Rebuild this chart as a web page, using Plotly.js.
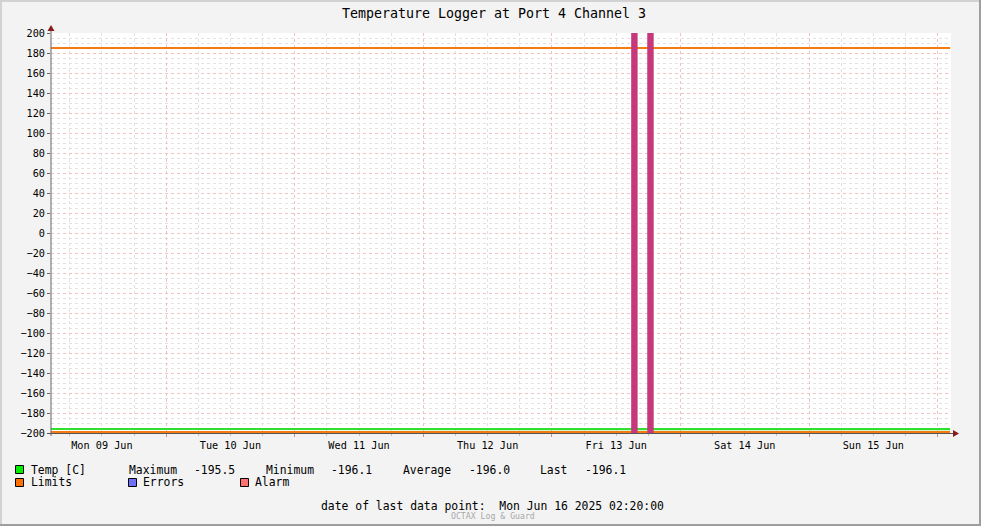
<!DOCTYPE html>
<html>
<head>
<meta charset="utf-8">
<script src="https://cdn.plot.ly/plotly-3.0.1.min.js"></script>
<style>
  html, body { margin: 0; padding: 0; background: #f3f3f3; }
  #wrap { position: relative; width: 981px; height: 526px; overflow: hidden; }
  #chart { position: absolute; left: 0; top: 0; width: 981px; height: 526px; }
  .b { position: absolute; pointer-events: none; }
</style>
</head>
<body>
<div id="wrap">
  <div id="chart"></div>
  <div class="b" style="left:0;top:0;width:981px;height:2px;background:#d2d2d2"></div>
  <div class="b" style="left:0;top:0;width:2px;height:526px;background:#d2d2d2"></div>
  <div class="b" style="left:979px;top:0;width:2px;height:526px;background:#9e9e9e"></div>
  <div class="b" style="left:0;top:524px;width:981px;height:2px;background:#9e9e9e"></div>
</div>
<script>
// ---- data ----
const chartTitle = "Temperature Logger at Port 4 Channel 3";
const xRange = ["2025-06-09 02:30", "2025-06-16 02:30"];

const tempTimes = [
  "2025-06-09 02:30","2025-06-09 08:00","2025-06-09 14:00","2025-06-09 20:00",
  "2025-06-10 02:00","2025-06-10 08:00","2025-06-10 14:00","2025-06-10 20:00",
  "2025-06-11 02:00","2025-06-11 08:00","2025-06-11 14:00","2025-06-11 20:00",
  "2025-06-12 02:00","2025-06-12 08:00","2025-06-12 14:00","2025-06-12 20:00",
  "2025-06-13 02:00","2025-06-13 08:00","2025-06-13 14:00","2025-06-13 20:00",
  "2025-06-14 02:00","2025-06-14 08:00","2025-06-14 14:00","2025-06-14 20:00",
  "2025-06-15 02:00","2025-06-15 08:00","2025-06-15 14:00","2025-06-15 20:00",
  "2025-06-16 02:20"
];
const tempValues = [
  -196.0,-196.0,-195.9,-196.0,
  -196.1,-196.0,-196.0,-195.9,
  -196.0,-196.0,-196.1,-196.0,
  -196.0,-195.9,-196.0,-196.0,
  -196.1,-196.0,-195.5,-196.0,
  -196.0,-196.0,-195.9,-196.0,
  -196.1,-196.0,-196.0,-196.0,
  -196.1
];

const limitTimes = ["2025-06-09 02:30", "2025-06-16 02:20"];
const upperLimit = [185, 185];
const lowerLimit = [-199, -199];

const alarmStart = ["2025-06-13 14:48", "2025-06-13 17:48"];
const alarmEnd   = ["2025-06-13 16:00", "2025-06-13 19:00"];
const alarmLow = -200;
const alarmHigh = 200;

const statLabels = ["Maximum", "Minimum", "Average", "Last"];
const statValues = ["-195.5", "-196.1", "-196.0", "-196.1"];
const seriesNames = ["Temp [C]", "Limits", "Errors", "Alarm"];
const lastPointText = "date of last data point:  Mon Jun 16 2025 02:20:00";
const footerText = "OCTAX Log & Guard";

// ---- helpers ----
const L = 51, R = 951, T = 33, B = 433;
const W = R - L, H = B - T;
const px = x => (x - L) / W;
const py = y => (B - y) / H;
const FONT = "DejaVu Sans Mono";

// alarm periods as closed polygons (separated by null)
const alarmX = [], alarmY = [];
alarmStart.forEach((s, i) => {
  const e = alarmEnd[i];
  alarmX.push(s, s, e, e, s, null);
  alarmY.push(alarmLow, alarmHigh, alarmHigh, alarmLow, alarmLow, null);
});

const traces = [
  { x: limitTimes, y: lowerLimit, type: "scatter", mode: "lines",
    line: { color: "#f57a12", width: 2 }, name: seriesNames[1] },
  { x: tempTimes, y: tempValues, type: "scatter", mode: "lines",
    line: { color: "#2fe02f", width: 2.2 }, name: seriesNames[0] },
  { x: limitTimes, y: upperLimit, type: "scatter", mode: "lines",
    line: { color: "#f57a12", width: 2 }, name: seriesNames[1] },
  { x: alarmX, y: alarmY, type: "scatter", mode: "lines", fill: "toself",
    fillcolor: "#c5387a", line: { width: 0, color: "#c5387a" }, name: seriesNames[3] }
];

// ---- annotations ----
const ann = [];
function txt(text, x, y, size, color, anchor) {
  ann.push({ text, xref: "paper", yref: "paper", x: px(x), y: py(y),
    xanchor: anchor || "left", yanchor: "middle", showarrow: false, borderpad: 0,
    font: { family: FONT, size: size || 11.4, color: color || "#000" } });
}
txt(seriesNames[0], 30, 470);
const statX = [[128, 193], [265, 330], [402, 468], [539, 584]];
statLabels.forEach((s, i) => { txt(s, statX[i][0], 470); txt(statValues[i], statX[i][1], 470); });
txt(seriesNames[1], 30, 482);
txt(seriesNames[2], 142, 482);
txt(seriesNames[3], 254, 482);
txt(lastPointText, 492, 506, 11.4, "#000", "center");
txt(footerText, 493, 516, 8.2, "#a8a8a8", "center");

// ---- decorative shapes ----
const shapes = [];
function box(x0, y0, x1, y1, color) {
  shapes.push({ type: "rect", xref: "paper", yref: "paper",
    x0: px(x0), x1: px(x1), y0: py(y1), y1: py(y0),
    fillcolor: color, line: { color: "#000", width: 1 } });
}
box(15.5, 465.5, 23.5, 473.5, "#00ee00");
box(15.5, 478.5, 23.5, 486.5, "#ff7000");
box(128.5, 478.5, 136.5, 486.5, "#7070ff");
box(240.5, 478.5, 248.5, 486.5, "#ff7070");
// axis lines
shapes.push({ type: "line", xref: "paper", yref: "paper", x0: px(51), x1: px(51), y0: py(436), y1: py(29),
  line: { color: "#666", width: 1 } });
shapes.push({ type: "line", xref: "paper", yref: "paper", x0: px(47), x1: px(954), y0: py(433.5), y1: py(433.5),
  line: { color: "#555", width: 1 } });
// arrows
shapes.push({ type: "path", xref: "paper", yref: "paper",
  path: `M ${px(51)} ${py(25)} L ${px(47.5)} ${py(31)} L ${px(54.5)} ${py(31)} Z`,
  fillcolor: "#8b1c1c", line: { width: 0 } });
shapes.push({ type: "path", xref: "paper", yref: "paper",
  path: `M ${px(959)} ${py(433.5)} L ${px(953)} ${py(430)} L ${px(953)} ${py(437)} Z`,
  fillcolor: "#8b1c1c", line: { width: 0 } });

const layout = {
  width: 981, height: 526,
  margin: { l: L, r: 981 - R, t: T, b: 526 - B, pad: 0 },
  paper_bgcolor: "#f3f3f3", plot_bgcolor: "#ffffff",
  showlegend: false,
  font: { family: FONT, color: "#000" },
  title: { text: chartTitle, x: 494 / 981, xref: "container", xanchor: "center",
    y: 1 - 13 / 526, yref: "container", yanchor: "middle",
    font: { family: FONT, size: 13.3, color: "#000" } },
  xaxis: {
    type: "date", range: xRange, tick0: "2025-06-09 00:00", dtick: 86400000,
    ticklabelmode: "period", tickformat: "%a %d %b",
    showgrid: true, gridcolor: "#eec2c2", griddash: "dot", gridwidth: 1,
    ticks: "outside", ticklen: 3, tickcolor: "#d08a8a",
    tickfont: { family: FONT, size: 10.2, color: "#000" },
    minor: { dtick: 21600000, tick0: "2025-06-09 00:00", showgrid: true,
      gridcolor: "#e2e2e2", griddash: "dot", gridwidth: 1,
      ticks: "outside", ticklen: 2, tickcolor: "#c4c4c4" },
    zeroline: false, showline: false, fixedrange: true
  },
  yaxis: {
    range: [-200, 200], dtick: 20, tick0: 0,
    showgrid: true, gridcolor: "#eec2c2", griddash: "dot", gridwidth: 1,
    ticks: "outside", ticklen: 3, tickcolor: "#666",
    tickfont: { family: FONT, size: 10.2, color: "#000" },
    minor: { dtick: 5, showgrid: true, gridcolor: "#e2e2e2", griddash: "dot", gridwidth: 1 },
    zeroline: false, showline: false, fixedrange: true
  },
  annotations: ann,
  shapes: shapes
};

Plotly.newPlot("chart", traces, layout, { staticPlot: true, displayModeBar: false });
</script>
</body>
</html>
